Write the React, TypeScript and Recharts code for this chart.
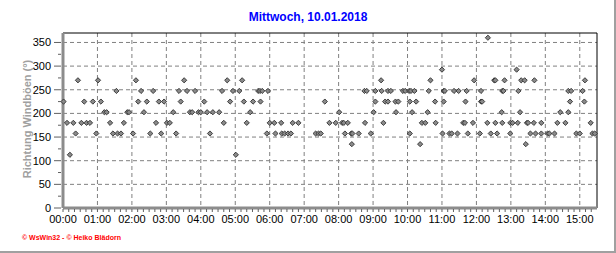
import { ScatterChart, Scatter, XAxis, YAxis, CartesianGrid, ReferenceLine } from "recharts"

// time of each reading in minutes after midnight, and gust direction in degrees
const minutes = [
  1, 7, 12, 18, 22, 26, 32, 37, 41, 47, 52, 58, 61, 66, 72, 76, 82, 87, 93, 95,
  101, 106, 112, 115, 122, 127, 131, 136, 141, 146, 152, 157, 162, 167, 171, 176, 181, 186, 192, 197,
  202, 205, 211, 216, 221, 225, 230,
  236, 240, 246, 251, 256, 261, 272, 277, 280, 286, 291, 296, 301, 307, 312, 315, 320, 326, 331, 340,
  343, 344, 347, 355, 357, 360, 368, 370, 380, 381, 386, 392, 397, 400, 410, 440, 445, 449, 456, 464,
  475, 481, 486, 489, 491, 496, 502, 503, 504, 515, 525, 526, 529, 536, 541, 544, 544, 554, 555, 558,
  561, 566, 566, 571, 579, 580, 584, 592, 596, 603, 604, 604, 606, 608, 612, 615, 622, 625, 631, 635,
  637, 640, 648, 649, 660, 661, 663, 663, 665, 673, 677, 681, 687, 689,
  697, 700, 701, 703, 705, 714, 716, 726, 728, 728, 730, 739, 740, 745, 751, 753, 753, 756, 764, 765,
  765, 767, 769, 779, 779, 783, 790, 792, 793, 796, 798, 804, 806, 808, 810, 814, 820, 821, 823, 833,
  833, 844, 847, 856, 861, 866, 875, 880, 880, 883, 885, 894, 900, 905, 908, 909, 919, 922, 926,
]

const direction = [
  225, 180, 112.5, 180, 157.5, 270, 180, 225, 180, 180, 225, 157.5, 270, 225, 202.5, 202.5, 180, 157.5, 247.5, 157.5,
  157.5, 180, 202.5, 202.5, 157.5, 270, 225, 247.5, 202.5, 225, 157.5, 247.5, 180, 225, 157.5, 225, 180, 180, 202.5, 157.5,
  247.5, 225, 270, 247.5, 202.5, 202.5, 247.5,
  202.5, 202.5, 225, 202.5, 157.5, 202.5, 202.5, 247.5, 180, 270, 225, 247.5, 112.5, 247.5, 270, 225, 180, 202.5, 225, 247.5,
  247.5, 225, 247.5, 157.5, 247.5, 180, 180, 157.5, 180, 157.5, 157.5, 157.5, 157.5, 180, 180, 157.5, 157.5, 157.5, 225, 180,
  180, 202.5, 180, 180, 157.5, 180, 157.5, 135, 157.5, 157.5, 247.5, 180, 247.5, 157.5, 202.5, 247.5, 225, 270, 247.5, 180,
  225, 247.5, 225, 247.5, 225, 202.5, 225, 247.5, 247.5, 247.5, 225, 157.5, 247.5, 202.5, 247.5, 225, 135, 180, 180, 202.5,
  247.5, 270, 225, 180, 292.5, 157.5, 247.5, 225, 247.5, 157.5, 157.5, 247.5, 157.5, 247.5,
  180, 180, 225, 247.5, 157.5, 180, 270, 157.5, 225, 247.5, 225, 180, 360, 157.5, 270, 270, 180, 157.5, 202.5, 180,
  247.5, 247.5, 270, 180, 157.5, 180, 292.5, 180, 247.5, 202.5, 270, 270, 135, 180, 180, 157.5, 180, 270, 157.5, 180,
  157.5, 157.5, 157.5, 157.5, 180, 202.5, 180, 247.5, 202.5, 225, 247.5, 157.5, 157.5, 247.5, 225, 270, 180, 157.5, 157.5,
]

const hourTicks = [0, 60, 120, 180, 240, 300, 360, 420, 480, 540, 600, 660, 720, 780, 840, 900]
const hourLabels = [
  "00:00", "01:00", "02:00", "03:00", "04:00", "05:00", "06:00", "07:00",
  "08:00", "09:00", "10:00", "11:00", "12:00", "13:00", "14:00", "15:00",
]
const yLabelTicks = [0, 50, 100, 150, 200, 250, 300, 350]

const minorXTicks = Array.from({ length: 93 }, (_, i) => i * 10)
const minorYTicks = Array.from({ length: 15 }, (_, i) => i * 25)

const data = minutes.map((t, i) => ({ t, dir: direction[i] }))

const font = "'Liberation Sans', Arial, sans-serif"

function XTick({ x, y, payload }: any) {
  const idx = hourTicks.indexOf(payload.value)
  return (
    <g>
      <line x1={x} y1={y + 1} x2={x} y2={y + 4} stroke="#606060" />
      {idx >= 0 && (
        <text x={x} y={y + 15} textAnchor="middle" fontSize={11} fill="#000" fontFamily={font}>
          {hourLabels[idx]}
        </text>
      )}
    </g>
  )
}

function YTick({ x, y, payload }: any) {
  const major = yLabelTicks.includes(payload.value)
  return (
    <g>
      <line x1={x - (major ? 9 : 5)} y1={y} x2={x - 2} y2={y} stroke="#606060" />
      {major && (
        <text x={x - 12} y={y} dy="0.35em" textAnchor="end" fontSize={11} fill="#000" fontFamily={font}>
          {payload.value}
        </text>
      )}
    </g>
  )
}

function AxisTitle() {
  return (
    <text
      x={27}
      y={119}
      transform="rotate(-90 27 119)"
      textAnchor="middle"
      dominantBaseline="central"
      fontSize={11}
      fontWeight="bold"
      fill="#a0a0a0"
      fontFamily={font}
    >
      Richtung Windböen (°)
    </text>
  )
}

function Diamond({ cx, cy }: any) {
  if (cx == null || cy == null) return null
  const r = 2.6
  return (
    <polygon
      points={`${cx},${cy - r} ${cx + r},${cy} ${cx},${cy + r} ${cx - r},${cy}`}
      fill="#8a8a8a"
      stroke="#303030"
      strokeWidth={0.9}
    />
  )
}

export default function App() {
  return (
    <div style={{ position: "fixed", left: 0, top: 0, width: 616, height: 253, background: "#fff", fontFamily: font }}>
      <div
        style={{
          position: "absolute",
          top: 10,
          left: 0,
          width: 616,
          textAlign: "center",
          color: "#0000ff",
          fontWeight: "bold",
          fontSize: 12,
        }}
      >
        Mittwoch, 10.01.2018
      </div>
      <div style={{ position: "absolute", top: 0 }}>
        <ScatterChart width={616} height={253} margin={{ top: 33, right: 19, bottom: 25, left: 18 }}>
          <CartesianGrid
            stroke="#808080"
            strokeDasharray="4 3"
            horizontalValues={[50, 100, 150, 200, 250, 300, 350]}
            verticalValues={[60, 120, 180, 240, 300, 360, 420, 480, 540, 600, 660, 720, 780, 840, 900]}
          />
          <ReferenceLine y={370} stroke="#000" />
          <ReferenceLine x={930} stroke="#000" />
          <XAxis
            type="number"
            dataKey="t"
            domain={[0, 930]}
            ticks={minorXTicks}
            interval={0}
            tickSize={0}
            tickMargin={0}
            tickLine={false}
            tick={<XTick />}
            height={20}
            axisLine={{ stroke: "#8c8c8c", strokeWidth: 3 }}
          />
          <YAxis
            type="number"
            dataKey="dir"
            domain={[0, 370]}
            ticks={minorYTicks}
            interval={0}
            tickSize={0}
            tickMargin={0}
            tickLine={false}
            tick={<YTick />}
            width={45}
            axisLine={{ stroke: "#8c8c8c", strokeWidth: 3 }}
            label={<AxisTitle />}
          />
          <Scatter data={data} shape={<Diamond />} isAnimationActive={false} />
        </ScatterChart>
      </div>
      <div
        style={{
          position: "absolute",
          left: 22,
          top: 234,
          color: "#ff0000",
          fontSize: 7,
          fontWeight: "bold",
          whiteSpace: "nowrap",
        }}
      >
        © WsWin32 - © Heiko Blädorn
      </div>
      <div style={{ position: "absolute", right: 0, top: 0, width: 2, height: 253, background: "#a0a0a0" }} />
      <div style={{ position: "absolute", left: 0, bottom: 0, width: 616, height: 2, background: "#a0a0a0" }} />
    </div>
  )
}
